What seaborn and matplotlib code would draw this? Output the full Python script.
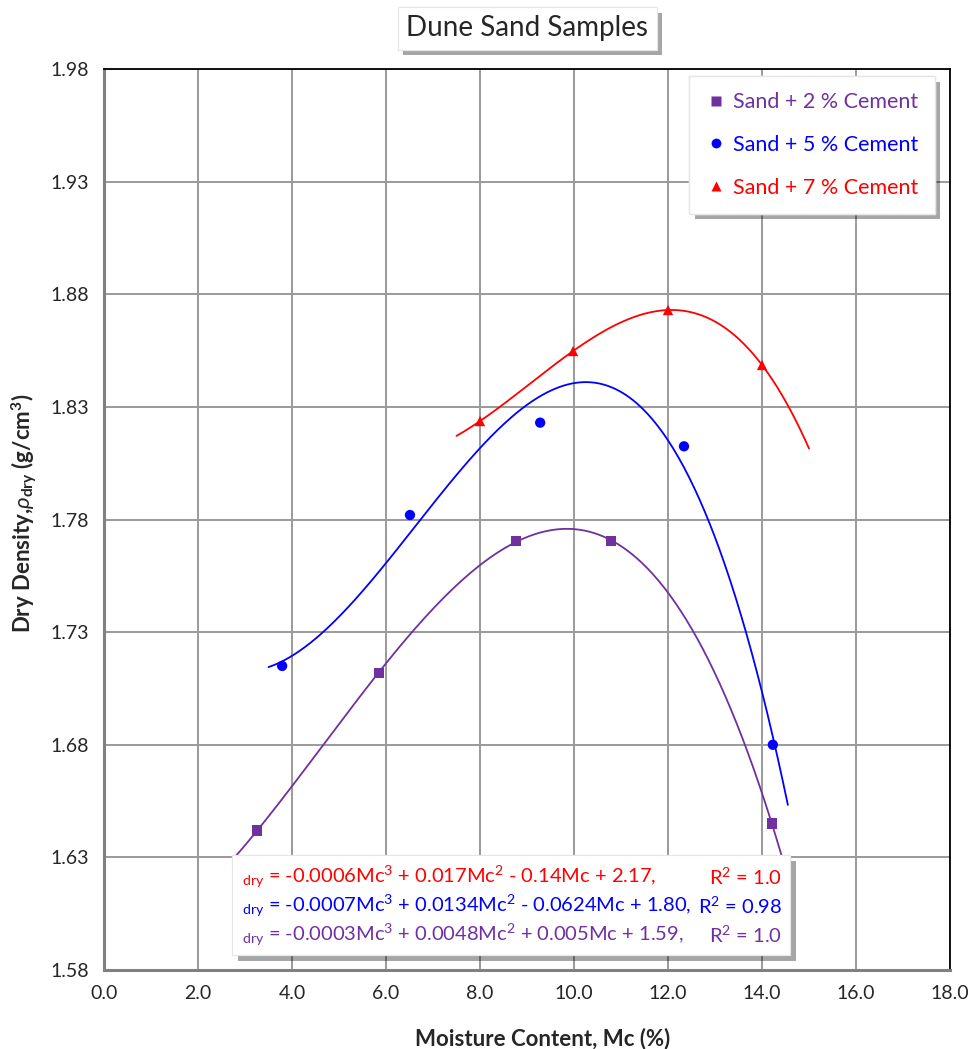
import numpy as np
import pandas as pd
import seaborn as sns
import matplotlib.pyplot as plt
import matplotlib.patheffects as pe
from matplotlib.patches import FancyBboxPatch
from matplotlib.ticker import MultipleLocator, FixedLocator, FormatStrFormatter

# values
mc_2 = [3.26, 5.85, 8.77, 10.79, 14.21]
rho_2 = [1.642, 1.712, 1.7705, 1.7705, 1.645]
mc_5 = [3.79, 6.51, 9.28, 12.34, 14.23]
rho_5 = [1.715, 1.782, 1.823, 1.8125, 1.680]
mc_7 = [8.0, 9.98, 12.0, 14.0]
rho_7 = [1.8237, 1.8548, 1.873, 1.8486]

series = ["Sand + 2 % Cement", "Sand + 5 % Cement", "Sand + 7 % Cement"]
colors = ["#7030A0", "#0000FF", "#FF0000"]
markers = ["s", "o", "^"]
fit_range = [(2.8, 14.6), (3.5, 14.55), (7.5, 15.0)]
y_ticks = [1.58, 1.63, 1.68, 1.73, 1.78, 1.83, 1.88, 1.93, 1.98]

eq_left = [
    r"$_{\mathrm{dry}}$ = -0.0006Mc$^3$ + 0.017Mc$^2$ - 0.14Mc + 2.17,",
    r"$_{\mathrm{dry}}$ = -0.0007Mc$^3$ + 0.0134Mc$^2$ - 0.0624Mc + 1.80,",
    r"$_{\mathrm{dry}}$ = -0.0003Mc$^3$ + 0.0048Mc$^2$ + 0.005Mc + 1.59,",
]
eq_right = [r"R$^2$ = 1.0", r"R$^2$ = 0.98", r"R$^2$ = 1.0"]
eq_colors = ["#FF0000", "#0000FF", "#7030A0"]

pts = pd.concat([
    pd.DataFrame({"Mc": x, "rho": y, "Sample": s})
    for x, y, s in zip([mc_2, mc_5, mc_7], [rho_2, rho_5, rho_7], series)
], ignore_index=True)

# cubic trend lines, like the spreadsheet's polynomial trendline
fits = []
for s, (lo, hi) in zip(series, fit_range):
    d = pts[pts["Sample"] == s]
    coef = np.polyfit(d["Mc"], d["rho"], 3)
    xs = np.linspace(lo, hi, 300)
    fits.append(pd.DataFrame({"Mc": xs, "rho": np.polyval(coef, xs), "Sample": s}))
fits = pd.concat(fits, ignore_index=True)

sns.set_style("white")
plt.rcParams["font.family"] = ["Lato", "DejaVu Sans"]
plt.rcParams["mathtext.fontset"] = "custom"
plt.rcParams["mathtext.rm"] = "Lato"
plt.rcParams["mathtext.it"] = "Lato:italic"
plt.rcParams["mathtext.bf"] = "Lato:bold"

fig = plt.figure(figsize=(9.71, 10.49), dpi=100)
ax = fig.add_axes([0.1071, 0.0753, 0.8713, 0.8589])

pal = dict(zip(series, colors))
sns.lineplot(data=fits, x="Mc", y="rho", hue="Sample", palette=pal,
             linewidth=1.3, legend=False, ax=ax, sort=False, zorder=3)
sns.scatterplot(data=pts, x="Mc", y="rho", hue="Sample", style="Sample",
                palette=pal, markers=dict(zip(series, markers)), s=55,
                edgecolor="none", ax=ax, zorder=4)

ax.set_xlim(0, 18)
ax.set_ylim(1.58, 1.98)
ax.xaxis.set_major_locator(MultipleLocator(2))
ax.xaxis.set_minor_locator(MultipleLocator(0.4))
ax.yaxis.set_major_locator(FixedLocator(y_ticks))
ax.yaxis.set_minor_locator(MultipleLocator(0.01))
ax.xaxis.set_major_formatter(FormatStrFormatter("%.1f"))
ax.yaxis.set_major_formatter(FormatStrFormatter("%.2f"))
ax.tick_params(which="major", direction="inout", length=9, width=1.3,
               color="#808080", labelsize=14, pad=6)
ax.tick_params(which="minor", direction="in", length=5, width=1,
               color="#808080")
ax.grid(which="major", color="#9a9a9a", linewidth=1.4)
for side in ["left", "bottom"]:
    ax.spines[side].set_color("#808080")
    ax.spines[side].set_linewidth(2.2)
for side in ["top", "right"]:
    ax.spines[side].set_color("black")
    ax.spines[side].set_linewidth(1.3)

ax.set_xlabel("Moisture Content, Mc (%)", fontsize=16, fontweight="bold")
ax.set_ylabel(r"Dry Density,$\rho_{\mathbf{dry}}$ (g/cm$^{\mathbf{3}}$)",
              fontsize=16, fontweight="bold")
ax.xaxis.set_label_coords(0.518, -0.064)
ax.yaxis.set_label_coords(-0.076, 0.507)

shadow = [pe.withSimplePatchShadow(offset=(4, -4), shadow_rgbFace="black",
                                   alpha=0.35), pe.Normal()]

leg = ax.legend(loc="upper right", bbox_to_anchor=(0.982, 0.992),
                borderaxespad=0, fontsize=15.5, frameon=True, fancybox=False,
                edgecolor="#e6e6e6", framealpha=1, handletextpad=0.3,
                handlelength=1.0, labelspacing=1.05, borderpad=0.75,
                markerscale=0.95)
for txt, c in zip(leg.get_texts(), colors):
    txt.set_color(c)
leg.get_frame().set_path_effects(shadow)
leg.set_zorder(6)

title = fig.text(0.543, 0.973, "Dune Sand Samples", ha="center", va="center",
                 fontsize=20,
                 bbox=dict(boxstyle="square,pad=0.3", fc="white",
                           ec="#e6e6e6", lw=0.8))
title.get_bbox_patch().set_path_effects(shadow)

box = FancyBboxPatch((232 / 971, 1 - 955 / 1049), 558 / 971, 100 / 1049,
                     boxstyle="square,pad=0", transform=fig.transFigure,
                     fc="white", ec="#e6e6e6", lw=0.8, zorder=5)
box.set_path_effects(shadow)
fig.add_artist(box)
for i, (l, r, c) in enumerate(zip(eq_left, eq_right, eq_colors)):
    y = 1 - (877 + 29 * i) / 1049
    fig.text(242 / 971, y, l, color=c, fontsize=14.5, va="center", zorder=6)
    fig.text(782 / 971, y, r, color=c, fontsize=14.5, va="center", ha="right",
             zorder=6)

fig.savefig("out.png", dpi=100)
